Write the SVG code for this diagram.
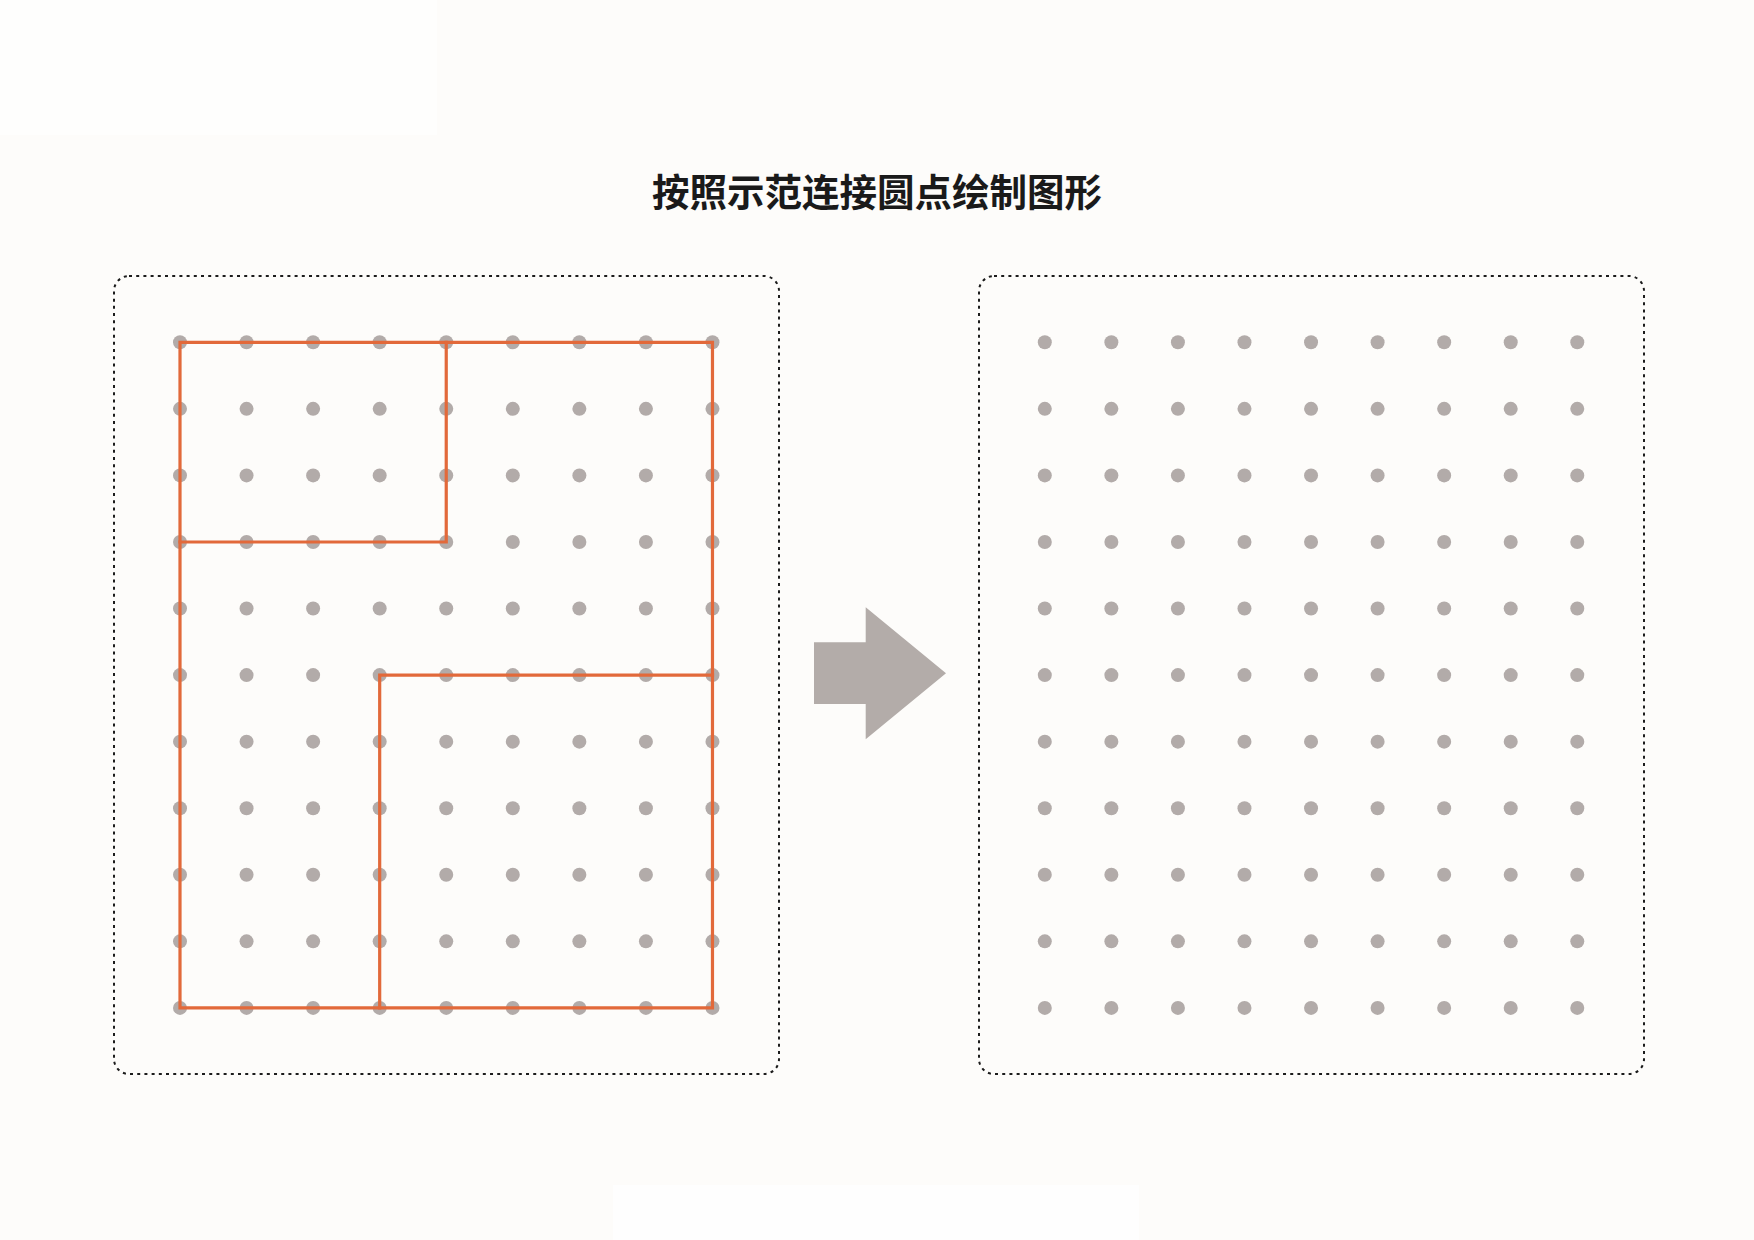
<svg xmlns="http://www.w3.org/2000/svg" xmlns:xlink="http://www.w3.org/1999/xlink" width="1754" height="1240" viewBox="0 0 1754 1240">
  <style>
    .frame { fill: none; stroke: #1c1c1c; stroke-width: 2; stroke-dasharray: 3 4.2; }
    .dot { fill: #b2aba9; }
    .line { fill: none; stroke: #e2693a; stroke-width: 3.2; stroke-linejoin: miter; stroke-linecap: square; }
    .title { font-family: "Noto Sans CJK SC", "Noto Sans", sans-serif; font-size: 37.5px; font-weight: bold; fill: #1a1a1a; }
  </style>
  <defs>
    <g id="dotrow">
      <circle class="dot" cx="0" cy="0" r="7"/>
      <circle class="dot" cx="66.56" cy="0" r="7"/>
      <circle class="dot" cx="133.12" cy="0" r="7"/>
      <circle class="dot" cx="199.68" cy="0" r="7"/>
      <circle class="dot" cx="266.24" cy="0" r="7"/>
      <circle class="dot" cx="332.8" cy="0" r="7"/>
      <circle class="dot" cx="399.36" cy="0" r="7"/>
      <circle class="dot" cx="465.92" cy="0" r="7"/>
      <circle class="dot" cx="532.48" cy="0" r="7"/>
    </g>
    <g id="dotgrid">
      <use xlink:href="#dotrow" href="#dotrow" y="0"/>
      <use xlink:href="#dotrow" href="#dotrow" y="66.56"/>
      <use xlink:href="#dotrow" href="#dotrow" y="133.12"/>
      <use xlink:href="#dotrow" href="#dotrow" y="199.68"/>
      <use xlink:href="#dotrow" href="#dotrow" y="266.24"/>
      <use xlink:href="#dotrow" href="#dotrow" y="332.8"/>
      <use xlink:href="#dotrow" href="#dotrow" y="399.36"/>
      <use xlink:href="#dotrow" href="#dotrow" y="465.92"/>
      <use xlink:href="#dotrow" href="#dotrow" y="532.48"/>
      <use xlink:href="#dotrow" href="#dotrow" y="599.04"/>
      <use xlink:href="#dotrow" href="#dotrow" y="665.6"/>
    </g>
  </defs>

  <rect x="0" y="0" width="1754" height="1240" fill="#fdfcfa"/>
  <rect x="0" y="0" width="437" height="135" fill="#fefefd"/>
  <rect x="613" y="1185" width="526" height="55" fill="#fefefe"/>

  <text class="title" x="877" y="206" text-anchor="middle">按照示范连接圆点绘制图形</text>

  <g id="left-panel">
    <rect class="frame" x="114" y="276" width="665" height="798" rx="15" ry="15"/>
    <use xlink:href="#dotgrid" href="#dotgrid" x="180" y="342.3"/>
  </g>

  <g id="connectors">
    <path class="line" d="M180 342.3 H712.48 V1007.9 H180 Z"/>
    <path class="line" d="M180 541.98 H446.24 V342.3"/>
    <path class="line" d="M712.48 675.1 H379.68 V1007.9"/>
  </g>

  <g id="arrow">
    <polygon points="814,642.3 865.7,642.3 865.7,607.3 946,673.3 865.7,739.3 865.7,704 814,704" fill="#b3aca9"/>
  </g>

  <g id="right-panel">
    <rect class="frame" x="979" y="276" width="665" height="798" rx="15" ry="15"/>
    <use xlink:href="#dotgrid" href="#dotgrid" x="1044.8" y="342.3"/>
  </g>
</svg>
